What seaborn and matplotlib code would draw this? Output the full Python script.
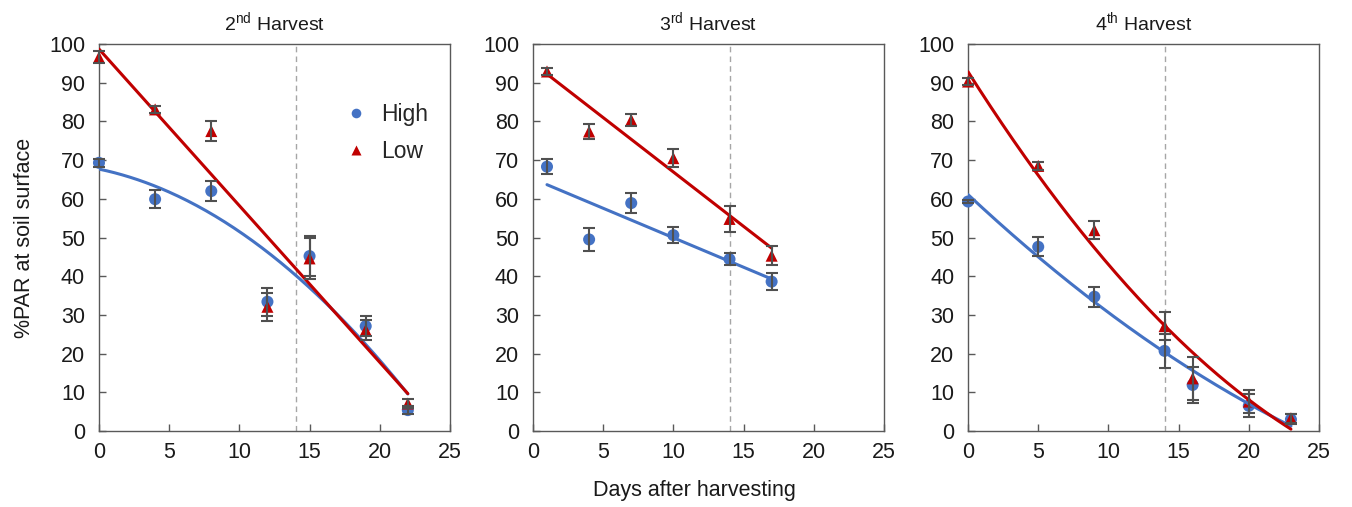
import numpy as np
import pandas as pd
import matplotlib
matplotlib.use("Agg")
import matplotlib.pyplot as plt
import seaborn as sns

# ---- data -------------------------------------------------------------
days_h2 = [0, 4, 8, 12, 15, 19, 22]
high_h2 = [69.3, 59.9, 62.0, 33.4, 45.2, 27.1, 5.4]
high_h2_err = [1.0, 2.4, 2.5, 3.6, 5.2, 2.5, 1.0]
low_h2 = [96.6, 83.1, 77.5, 32.1, 44.6, 26.1, 7.1]
low_h2_err = [1.5, 1.0, 2.5, 3.6, 5.3, 2.5, 1.2]

days_h3 = [1, 4, 7, 10, 14, 17]
high_h3 = [68.3, 49.5, 58.9, 50.6, 44.4, 38.6]
high_h3_err = [2.0, 3.0, 2.5, 2.0, 1.5, 2.1]
low_h3 = [92.9, 77.4, 80.4, 70.5, 54.8, 45.3]
low_h3_err = [1.0, 2.0, 1.5, 2.3, 3.4, 2.4]

days_h4 = [0, 5, 9, 14, 16, 20, 23]
high_h4 = [59.3, 47.6, 34.7, 20.7, 11.9, 6.5, 3.0]
high_h4_err = [0.5, 2.5, 2.6, 4.4, 4.6, 3.0, 1.3]
low_h4 = [90.3, 68.5, 51.9, 27.1, 13.6, 7.6, 3.3]
low_h4_err = [1.0, 1.0, 2.3, 3.7, 5.5, 3.0, 1.2]

titles = ["2$^{\\rm nd}$ Harvest", "3$^{\\rm rd}$ Harvest", "4$^{\\rm th}$ Harvest"]
# polynomial order of the trend line for (High, Low) in each harvest
fit_orders = [(2, 1), (1, 1), (2, 2)]

panels = [
    (days_h2, high_h2, high_h2_err, low_h2, low_h2_err),
    (days_h3, high_h3, high_h3_err, low_h3, low_h3_err),
    (days_h4, high_h4, high_h4_err, low_h4, low_h4_err),
]

# ---- style ------------------------------------------------------------
sns.set_theme(style="ticks")
plt.rcParams["font.family"] = ["Liberation Sans", "DejaVu Sans"]
plt.rcParams["mathtext.fontset"] = "custom"
plt.rcParams["mathtext.rm"] = "Liberation Sans"
plt.rcParams["mathtext.it"] = "Liberation Sans:italic"
plt.rcParams["mathtext.bf"] = "Liberation Sans:bold"

BLUE = "#4472C4"
RED = "#C00000"
FRAME = "#595959"
ERR = "#505050"
TEXT = "#1a1a1a"

fig = plt.figure(figsize=(13.52, 5.07), dpi=100)
lefts = [0.0732, 0.3942, 0.716]
axes = [fig.add_axes([l, 0.1499, 0.2596, 0.7633]) for l in lefts]

for i, (ax, (days, hi, hi_err, lo, lo_err)) in enumerate(zip(axes, panels)):
    df = pd.DataFrame({"day": days, "High": hi, "Low": lo})
    long = df.melt(id_vars="day", var_name="Treatment", value_name="par")

    ax.axvline(14, color="#A6A6A6", lw=1.0, ls=(0, (4, 3)), zorder=1)

    # fitted trend lines over the sampled range
    for name, col, order in zip(["High", "Low"], [BLUE, RED], fit_orders[i]):
        coef = np.polyfit(df["day"], df[name], order)
        xs = np.linspace(min(days), max(days), 200)
        fit = pd.DataFrame({"day": xs, "par": np.polyval(coef, xs)})
        sns.lineplot(data=fit, x="day", y="par", color=col, lw=2.2,
                     ax=ax, zorder=4)

    sns.scatterplot(data=long, x="day", y="par", hue="Treatment",
                    style="Treatment", palette={"High": BLUE, "Low": RED},
                    markers={"High": "o", "Low": "^"}, s=75,
                    edgecolor="none", ax=ax, zorder=3, legend=(i == 0),
                    clip_on=False)

    for vals, errs in ((hi, hi_err), (lo, lo_err)):
        eb = ax.errorbar(days, vals, yerr=errs, fmt="none", ecolor=ERR,
                         elinewidth=1.5, capsize=4, capthick=1.5, zorder=5)
        for artist in eb.lines[1] + eb.lines[2]:
            artist.set_clip_on(False)

    ax.set_xlim(0, 25)
    ax.set_ylim(0, 100)
    ax.set_xticks(range(0, 26, 5))
    ax.set_yticks(range(0, 101, 10))
    ax.tick_params(direction="in", length=5, width=1, color=FRAME,
                   labelsize=15.5, labelcolor=TEXT)
    ax.tick_params(axis="y", pad=10)
    ax.tick_params(axis="x", pad=8)
    for sp in ax.spines.values():
        sp.set_visible(True)
        sp.set_color(FRAME)
        sp.set_linewidth(1.0)
    ax.set_xlabel("")
    ax.set_ylabel("")
    ax.set_title(titles[i], fontsize=14, color=TEXT, pad=10)

    if i == 0:
        handles, labels = ax.get_legend_handles_labels()
        ax.legend(handles=handles, labels=labels, loc="upper left",
                  bbox_to_anchor=(0.64, 0.87), frameon=False,
                  fontsize=16.5, markerscale=0.8, handletextpad=0.1,
                  labelspacing=0.6, borderaxespad=0)

axes[0].set_ylabel("%PAR at soil surface", fontsize=15.5, color=TEXT,
                   labelpad=10)
fig.text(0.514, 0.033, "Days after harvesting", ha="center", va="center",
         fontsize=15.5, color=TEXT)

fig.savefig("out.png", dpi=100)
